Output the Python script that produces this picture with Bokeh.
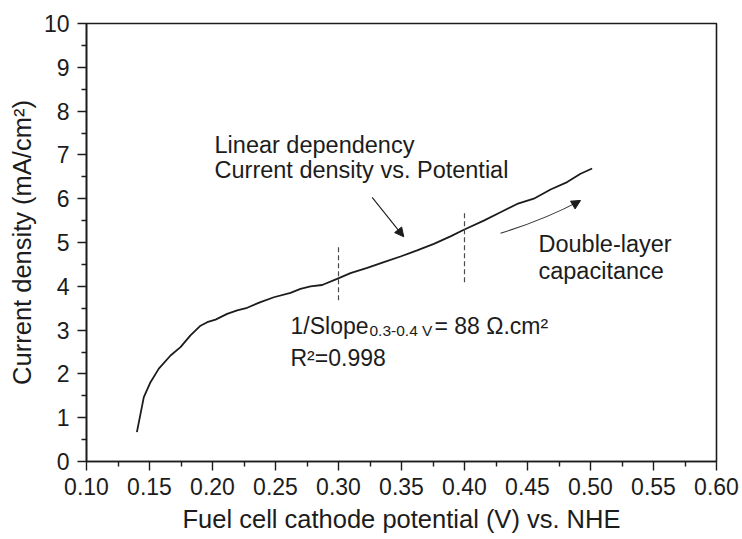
from bokeh.plotting import figure
from bokeh.models import Arrow, NormalHead, PrintfTickFormatter, FixedTicker
from bokeh.core.properties import value
from bokeh.embed import file_html
from bokeh.resources import INLINE

# Polarisation curve: fuel cell cathode potential (V vs. NHE) and current density (mA/cm2)
potential = [0.140, 0.1455, 0.1508, 0.1574, 0.1667, 0.1746, 0.1825, 0.1905, 0.1958,
             0.2024, 0.2116, 0.2196, 0.2275, 0.2381, 0.2487, 0.2619, 0.2698, 0.2778,
             0.2870, 0.2989, 0.3095, 0.3228, 0.3360, 0.3492, 0.3624, 0.3757, 0.3889,
             0.3995, 0.4153, 0.4286, 0.4418, 0.4550, 0.4683, 0.4815, 0.4921, 0.5013]
current = [0.67, 1.47, 1.81, 2.12, 2.42, 2.61, 2.88, 3.10, 3.18,
           3.24, 3.37, 3.45, 3.51, 3.64, 3.75, 3.85, 3.94, 4.00,
           4.03, 4.17, 4.30, 4.42, 4.55, 4.68, 4.82, 4.97, 5.14,
           5.29, 5.50, 5.69, 5.88, 6.00, 6.21, 6.38, 6.57, 6.69]

# Bounds of the linear fit window (dashed markers)
fit_bounds = [0.30, 0.40]
fit_lo = [3.68, 4.09]
fit_hi = [4.92, 5.69]

x_ticks = [0.10, 0.15, 0.20, 0.25, 0.30, 0.35, 0.40, 0.45, 0.50, 0.55, 0.60]
y_ticks = [0, 1, 2, 3, 4, 5, 6, 7, 8, 9, 10]

FONT = "Liberation Sans"
INK = "#1c1c1c"

p = figure(width=742, height=539, x_range=(0.10, 0.60), y_range=(0, 10),
           output_backend="svg", toolbar_location=None,
           min_border_left=86, min_border_right=26, min_border_top=23,
           min_border_bottom=78)
p.grid.visible = False
p.outline_line_color = INK
p.outline_line_width = 1.6
p.background_fill_color = "white"
p.border_fill_color = "white"

for ax in (p.xaxis[0], p.yaxis[0]):
    ax.axis_line_color = INK
    ax.axis_line_width = 1.6
    ax.major_tick_line_color = INK
    ax.minor_tick_line_color = INK
    ax.major_tick_line_width = 1.4
    ax.minor_tick_line_width = 1.4
    ax.major_tick_out = 9
    ax.major_tick_in = 0
    ax.minor_tick_out = 5
    ax.minor_tick_in = 0
    ax.major_label_text_font = FONT
    ax.major_label_text_font_size = "23px"
    ax.major_label_text_color = INK
    ax.axis_label_text_font = FONT
    ax.axis_label_text_font_size = "25.5px"
    ax.axis_label_text_font_style = "normal"
    ax.axis_label_text_color = INK

p.xaxis[0].ticker = FixedTicker(ticks=x_ticks,
                                minor_ticks=[t + 0.025 for t in x_ticks[:-1]])
p.xaxis[0].formatter = PrintfTickFormatter(format="%.2f")
p.xaxis[0].major_label_standoff = 7
p.xaxis[0].axis_label = "Fuel cell cathode potential (V) vs. NHE"
p.xaxis[0].axis_label_standoff = 7

p.yaxis[0].ticker = FixedTicker(ticks=y_ticks,
                                minor_ticks=[t + 0.5 for t in y_ticks[:-1]])
p.yaxis[0].major_label_standoff = 8
p.yaxis[0].axis_label = "Current density (mA/cm²)"
p.yaxis[0].axis_label_standoff = 5

# Measured curve
p.line(potential, current, line_color=INK, line_width=1.8)

# Fit window markers
p.segment(x0=fit_bounds, y0=fit_lo, x1=fit_bounds, y1=fit_hi,
          line_color="#4a4a4a", line_width=1.2, line_dash="5 3")

# Annotation texts
def label(x, y, text, size, x_offset=0, y_offset=0):
    p.text(x=[x], y=[y], text=[text], text_font=value(FONT),
           text_font_size=value(size), text_color=INK,
           text_baseline="alphabetic", text_align="left",
           x_offset=x_offset, y_offset=y_offset)

label(0.2016, 7.23, "Linear dependency", "23.5px")
label(0.2016, 6.65, "Current density vs. Potential", "23.5px")
label(0.2619, 3.10, "1/Slope", "23px")
label(0.2619, 3.10, "0.3-0.4 V", "15.5px", x_offset=79, y_offset=5)
label(0.2619, 3.10, "= 88 Ω.cm²", "23px", x_offset=144)
label(0.2619, 2.37, "R²=0.998", "23px")
label(0.4587, 4.96, "Double-layer", "23.5px")
label(0.4587, 4.34, "capacitance", "23.5px")

# Arrow pointing at the linear section
p.add_layout(Arrow(end=NormalHead(size=9, fill_color=INK, line_color=INK, line_width=1),
                   x_start=0.3267, y_start=6.03, x_end=0.3518, y_end=5.13,
                   line_color=INK, line_width=1.1))

# Curved arrow toward the double-layer region
p.quadratic(x0=[0.4286], y0=[5.21], x1=[0.4915], y1=[5.95],
            cx=[0.4643], cy=[5.53], line_color="#333333", line_width=1.1)
p.add_layout(Arrow(end=NormalHead(size=9, fill_color=INK, line_color=INK, line_width=1),
                   x_start=0.4880, y_start=5.89, x_end=0.4921, y_end=5.96,
                   line_color="#333333", line_width=1.1))

open("out.html", "w").write(file_html(p, INLINE))
